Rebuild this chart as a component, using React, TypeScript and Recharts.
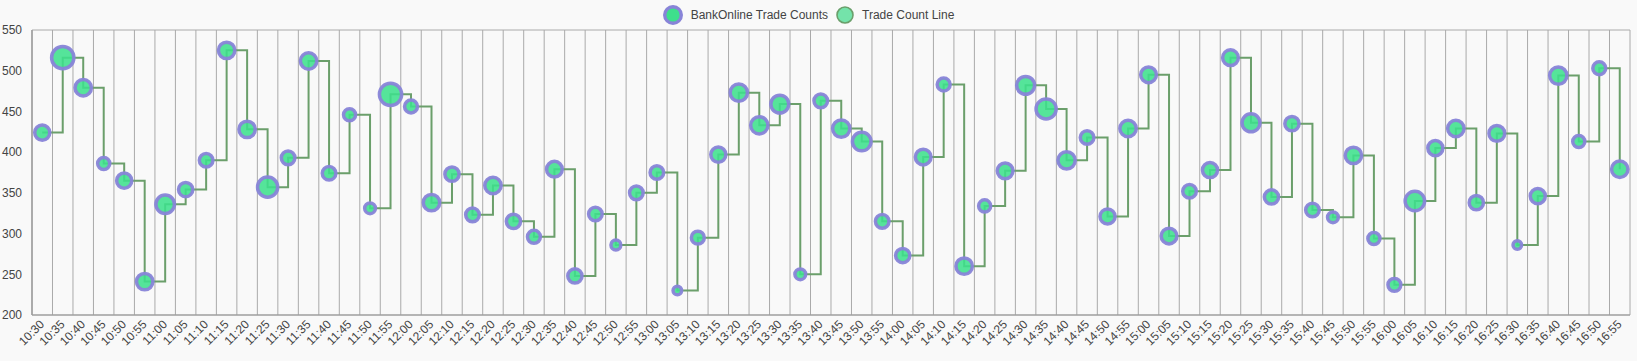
import React from 'react';
import {
  ComposedChart, Line, Scatter, XAxis, YAxis, ZAxis, CartesianGrid, Legend,
} from 'recharts';

const TIMES = [
  '10:30', '10:35', '10:40', '10:45', '10:50', '10:55', '11:00', '11:05', '11:10', '11:15',
  '11:20', '11:25', '11:30', '11:35', '11:40', '11:45', '11:50', '11:55', '12:00', '12:05',
  '12:10', '12:15', '12:20', '12:25', '12:30', '12:35', '12:40', '12:45', '12:50', '12:55',
  '13:00', '13:05', '13:10', '13:15', '13:20', '13:25', '13:30', '13:35', '13:40', '13:45',
  '13:50', '13:55', '14:00', '14:05', '14:10', '14:15', '14:20', '14:25', '14:30', '14:35',
  '14:40', '14:45', '14:50', '14:55', '15:00', '15:05', '15:10', '15:15', '15:20', '15:25',
  '15:30', '15:35', '15:40', '15:45', '15:50', '15:55', '16:00', '16:05', '16:10', '16:15',
  '16:20', '16:25', '16:30', '16:35', '16:40', '16:45', '16:50', '16:55',
];

// 取引件数
const COUNTS = [
  424, 516, 479, 386, 365, 241, 336, 354, 390, 525,
  428, 357, 393, 512, 374, 446, 331, 471, 456, 338,
  373, 323, 359, 315, 296, 379, 248, 324, 286, 350,
  375, 230, 295, 397, 473, 433, 459, 250, 463, 429,
  413, 315, 273, 394, 483, 260, 334, 377, 482, 453,
  390, 418, 321, 429, 495, 297, 352, 378, 516, 436,
  345, 435, 329, 320, 396, 294, 237, 340, 405, 429,
  338, 423, 286, 346, 494, 413, 503, 379,
];

// バブルの大きさ
const VOLUMES = [
  152, 330, 179, 97, 152, 179, 230, 135, 123, 179,
  179, 269, 123, 179, 123, 97, 77, 330, 111, 179,
  135, 123, 179, 135, 111, 165, 135, 123, 65, 123,
  123, 49, 111, 152, 199, 199, 214, 77, 123, 199,
  230, 123, 135, 165, 111, 179, 97, 165, 214, 269,
  199, 123, 152, 179, 165, 165, 123, 152, 165, 214,
  135, 135, 123, 77, 179, 97, 111, 252, 152, 179,
  135, 165, 49, 152, 199, 97, 111, 179,
];

const Y_TICKS = [200, 250, 300, 350, 400, 450, 500, 550];
const GRID_TICKS = [225, 275, 325, 375, 425, 475, 525];

const data = TIMES.map((time, i) => ({ time, count: COUNTS[i], volume: VOLUMES[i] }));

const FONT = '"Liberation Sans", Arial, sans-serif';
const DOT_FILL = '#3ee08c';
const DOT_STROKE = '#8884d8';
const LINE_COLOR = '#6b9f6b';

const LegendContent = () => (
  <div style={{
    width: 1637, height: 30, display: 'flex', alignItems: 'center', justifyContent: 'center',
    paddingRight: 20, boxSizing: 'border-box', fontFamily: FONT, fontSize: 12, color: '#444',
  }}>
    <svg width={20} height={20} style={{ marginRight: 8 }}>
      <circle cx={10} cy={10} r={8.3} fill={DOT_FILL} stroke={DOT_STROKE} strokeWidth={3.4} />
    </svg>
    <span style={{ marginRight: 8 }}>BankOnline Trade Counts</span>
    <svg width={18} height={18} style={{ marginRight: 8 }}>
      <circle cx={9} cy={9} r={8} fill="#74e3aa" stroke={LINE_COLOR} strokeWidth={1.6} />
    </svg>
    <span>Trade Count Line</span>
  </div>
);

const Dot = (p: any) => {
  const r = p.size != null ? Math.sqrt(p.size / Math.PI) : p.width / 2;
  return (
    <circle
      cx={p.cx} cy={p.cy} r={r}
      fill={DOT_FILL} fillOpacity={0.88}
      stroke={DOT_STROKE} strokeOpacity={0.95} strokeWidth={3.5}
    />
  );
};

// 斜めの時刻ラベル
const TimeTick = ({ x, y, payload }: any) => (
  <g transform={`translate(${x + 7},${y - 4})`}>
    <text
      x={0} y={0} dy="0.71em" textAnchor="end" transform="rotate(-45)"
      fontSize={12} fill="#444" fontFamily={FONT}
    >{payload.value}</text>
  </g>
);

export default function App() {
  const tick = { fontSize: 12, fill: '#444', fontFamily: FONT };
  return (
    <div style={{ width: 1637, height: 361, background: '#f9f9f9' }}>
      <style>{'body{margin:0;background:#f9f9f9}'}</style>
      <ComposedChart
        width={1637}
        height={361}
        data={data}
        margin={{ top: 0, right: 7, left: 0, bottom: 6 }}
      >
        <CartesianGrid stroke="#aaa" strokeWidth={1} yAxisId="grid" xAxisId={0} />
        {/* 目盛りとグリッドはバンドの左端 */}
        <XAxis
          dataKey="time"
          type="category"
          scale="point"
          interval={0}
          padding={{ left: 0, right: 20.5 }}
          height={40}
          tickLine={false}
          axisLine={{ stroke: '#999' }}
          tick={<TimeTick />}
        />
        {/* 点と線はバンドの中央 */}
        <XAxis
          xAxisId="pts"
          dataKey="time"
          type="category"
          scale="point"
          padding={{ left: 10.25, right: 10.25 }}
          hide
        />
        <YAxis
          domain={[200, 550]}
          ticks={Y_TICKS}
          width={32}
          tickLine={false}
          tickMargin={4}
          axisLine={{ stroke: '#999' }}
          tick={tick}
        />
        <YAxis yAxisId="grid" domain={[200, 550]} ticks={GRID_TICKS} hide />
        <ZAxis dataKey="volume" domain={[0, 400]} range={[0, 472]} />
        <Legend verticalAlign="top" content={<LegendContent />} wrapperStyle={{ left: 0, top: 0, width: 1637 }} />
        <Line
          xAxisId="pts"
          dataKey="count"
          name="Trade Count Line"
          type="stepAfter"
          stroke={LINE_COLOR}
          strokeWidth={2}
          dot={false}
          activeDot={false}
          isAnimationActive={false}
        />
        <Scatter
          xAxisId="pts"
          dataKey="count"
          name="BankOnline Trade Counts"
          shape={<Dot />}
          isAnimationActive={false}
        />
      </ComposedChart>
    </div>
  );
}
